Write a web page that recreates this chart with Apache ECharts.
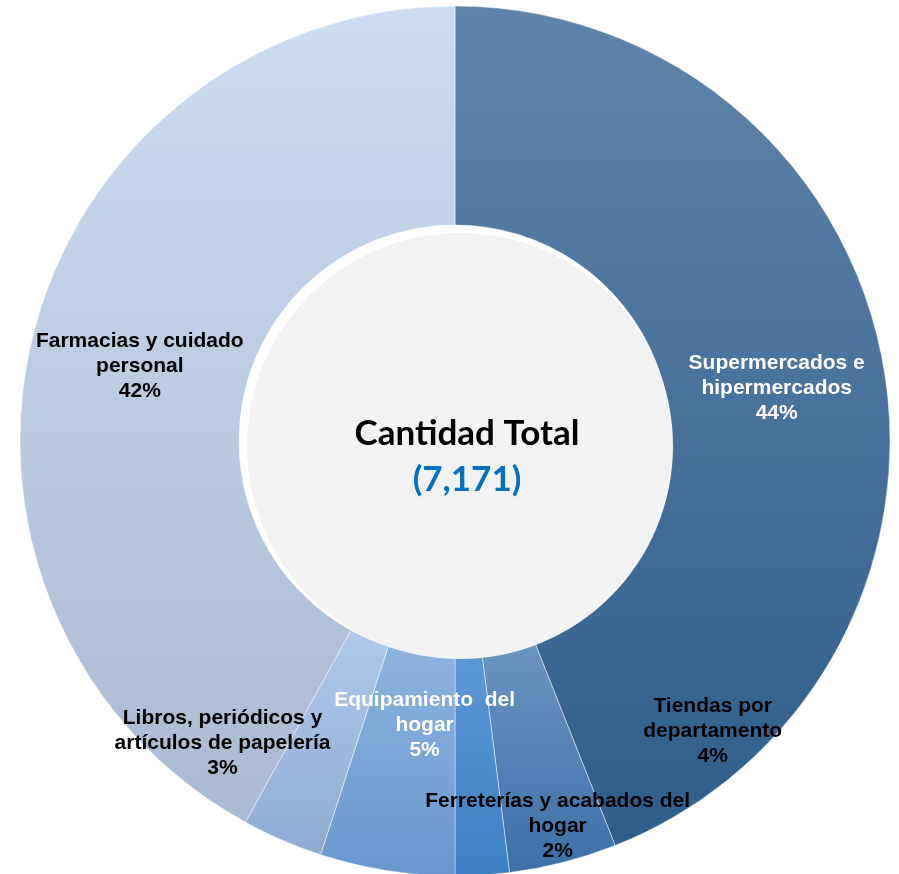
<!DOCTYPE html>
<html>
<head>
<meta charset="utf-8">
<script src="https://cdn.jsdelivr.net/npm/echarts@6/dist/echarts.min.js"></script>
<style>
  html, body { margin: 0; padding: 0; background: #fff; }
  #chart { width: 899px; height: 874px; }
</style>
</head>
<body>
<div id="chart"></div>
<script>
const categories = [
  'Supermercados e\nhipermercados',
  'Tiendas por\ndepartamento',
  'Ferreterías y acabados del\nhogar',
  'Equipamiento  del\nhogar',
  'Libros, periódicos y\nartículos de papelería',
  'Farmacias y cuidado\npersonal'
]
const shares = [44, 4, 2, 5, 3, 42]
const totalLabel = '(7,171)'

// top -> bottom gradient per slice
const sliceColors = [
  ['#6083aa', '#2e5e8c'],
  ['#6c94c2', '#3b70a8'],
  ['#5c98d3', '#3d7fc3'],
  ['#8db3e0', '#6896cc'],
  ['#afc9e9', '#90abd2'],
  ['#ccdcf1', '#a9bad3']
]
const labelColors = ['#fff', '#000', '#000', '#fff', '#000', '#000']
// nudges from the slice's middle to where the label sits
const labelNudge = [[-1, 9], [176, -28], [82, 57], [21, -40], [-102, 1], [3, 7]]

const chart = echarts.init(document.getElementById('chart'))

chart.setOption({
  animation: false,
  series: [
    {
      type: 'pie',
      center: [455, 441],
      radius: [216, 435],
      startAngle: 90,
      clockwise: true,
      silent: true,
      itemStyle: { borderColor: 'rgba(255,255,255,0.45)', borderWidth: 1 },
      label: {
        show: true,
        position: 'inner',
        fontFamily: 'Liberation Sans, Arial, sans-serif',
        fontWeight: 'bold',
        fontSize: 21,
        lineHeight: 25,
        align: 'center',
        formatter: (p) => `${p.name}\n${p.value}%`
      },
      labelLine: { show: false },
      labelLayout: (params) => ({
        dx: labelNudge[params.dataIndex][0],
        dy: labelNudge[params.dataIndex][1]
      }),
      data: categories.map((name, i) => ({
        name,
        value: shares[i],
        itemStyle: {
          color: new echarts.graphic.LinearGradient(0, 0, 0, 1, [
            { offset: 0, color: sliceColors[i][0] },
            { offset: 1, color: sliceColors[i][1] }
          ])
        },
        label: { color: labelColors[i] }
      }))
    },
    {
      // centre disc
      type: 'pie',
      center: [460, 446],
      radius: [0, 213],
      silent: true,
      z: 3,
      itemStyle: { color: '#f2f2f2' },
      label: {
        show: true,
        position: 'center',
        formatter: () => `{a|Cantidad Total}\n{b|${totalLabel}}`,
        rich: {
          a: { fontFamily: 'Lato, sans-serif', fontWeight: 'bold', fontSize: 35, color: '#000', lineHeight: 46 },
          b: { fontFamily: 'Lato, sans-serif', fontWeight: 'bold', fontSize: 35, color: '#0070c0', lineHeight: 46 }
        }
      },
      labelLayout: { dx: 7, dy: 11 },
      labelLine: { show: false },
      data: [{ name: 'total', value: 1 }]
    }
  ]
})
</script>
</body>
</html>
